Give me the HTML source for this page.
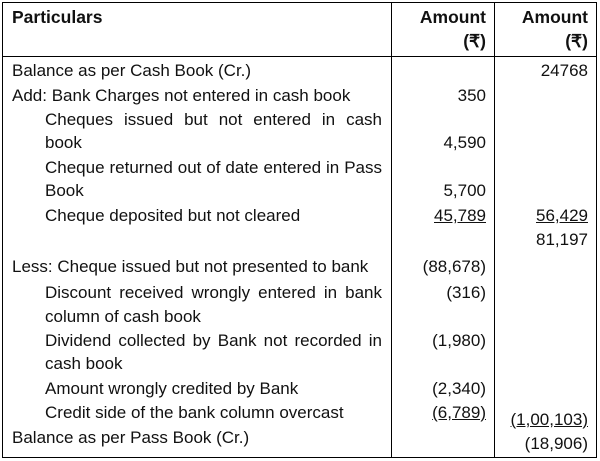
<!DOCTYPE html>
<html><head><meta charset="utf-8"><style>
body{margin:0;background:#fff;width:600px;height:461px;position:relative;overflow:hidden;font-family:"Liberation Sans",sans-serif;font-size:17px;color:#111}
.b{position:absolute;background:#000}
.t{position:absolute;white-space:nowrap;line-height:19px}
.j{text-align:justify;text-align-last:justify;white-space:normal}
.r{text-align:right}
.u{text-decoration:underline}
.h{font-weight:bold;font-size:17.5px}
</style></head><body>
<div class="b" style="left:2px;top:2px;width:595px;height:1px"></div>
<div class="b" style="left:2px;top:457px;width:595px;height:1px"></div>
<div class="b" style="left:2px;top:2px;width:1px;height:456px"></div>
<div class="b" style="left:596px;top:2px;width:1px;height:456px"></div>
<div class="b" style="left:391px;top:2px;width:1px;height:456px"></div>
<div class="b" style="left:494px;top:2px;width:1px;height:456px"></div>
<div class="b" style="left:2px;top:56px;width:595px;height:1px"></div>

<div class="t h" style="left:12px;top:8px">Particulars</div>
<div class="t h r" style="left:392px;width:94px;top:8px">Amount</div>
<div class="t h r" style="left:392px;width:94px;top:32px">(₹)</div>
<div class="t h r" style="left:495px;width:93px;top:8px">Amount</div>
<div class="t h r" style="left:495px;width:93px;top:32px">(₹)</div>

<div class="t" style="left:12px;top:61px">Balance as per Cash Book (Cr.)</div>
<div class="t r" style="left:495px;width:93px;top:61px">24768</div>
<div class="t" style="left:12px;top:86px">Add: Bank Charges not entered in cash book</div>
<div class="t r" style="left:392px;width:94px;top:86px">350</div>
<div class="t j" style="left:45px;width:337px;top:110px">Cheques issued but not entered in cash</div>
<div class="t" style="left:45px;top:133px">book</div>
<div class="t r" style="left:392px;width:94px;top:133px">4,590</div>
<div class="t j" style="left:45px;width:337px;top:158px">Cheque returned out of date entered in Pass</div>
<div class="t" style="left:45px;top:181px">Book</div>
<div class="t r" style="left:392px;width:94px;top:181px">5,700</div>
<div class="t" style="left:45px;top:206px">Cheque deposited but not cleared</div>
<div class="t r u" style="left:392px;width:94px;top:206px">45,789</div>
<div class="t r u" style="left:495px;width:93px;top:206px">56,429</div>
<div class="t r" style="left:495px;width:93px;top:230px">81,197</div>
<div class="t" style="left:12px;top:257px">Less: Cheque issued but not presented to bank</div>
<div class="t r" style="left:392px;width:94px;top:257px">(88,678)</div>
<div class="t j" style="left:45px;width:337px;top:283px">Discount received wrongly entered in bank</div>
<div class="t r" style="left:392px;width:94px;top:283px">(316)</div>
<div class="t" style="left:45px;top:307px">column of cash book</div>
<div class="t j" style="left:45px;width:337px;top:331px">Dividend collected by Bank not recorded in</div>
<div class="t r" style="left:392px;width:94px;top:331px">(1,980)</div>
<div class="t" style="left:45px;top:354px">cash book</div>
<div class="t" style="left:45px;top:379px">Amount wrongly credited by Bank</div>
<div class="t r" style="left:392px;width:94px;top:379px">(2,340)</div>
<div class="t" style="left:45px;top:403px">Credit side of the bank column overcast</div>
<div class="t r u" style="left:392px;width:94px;top:403px">(6,789)</div>
<div class="t r u" style="left:495px;width:93px;top:410px">(1,00,103)</div>
<div class="t" style="left:12px;top:428px">Balance as per Pass Book (Cr.)</div>
<div class="t r" style="left:495px;width:93px;top:434px">(18,906)</div>
</body></html>
